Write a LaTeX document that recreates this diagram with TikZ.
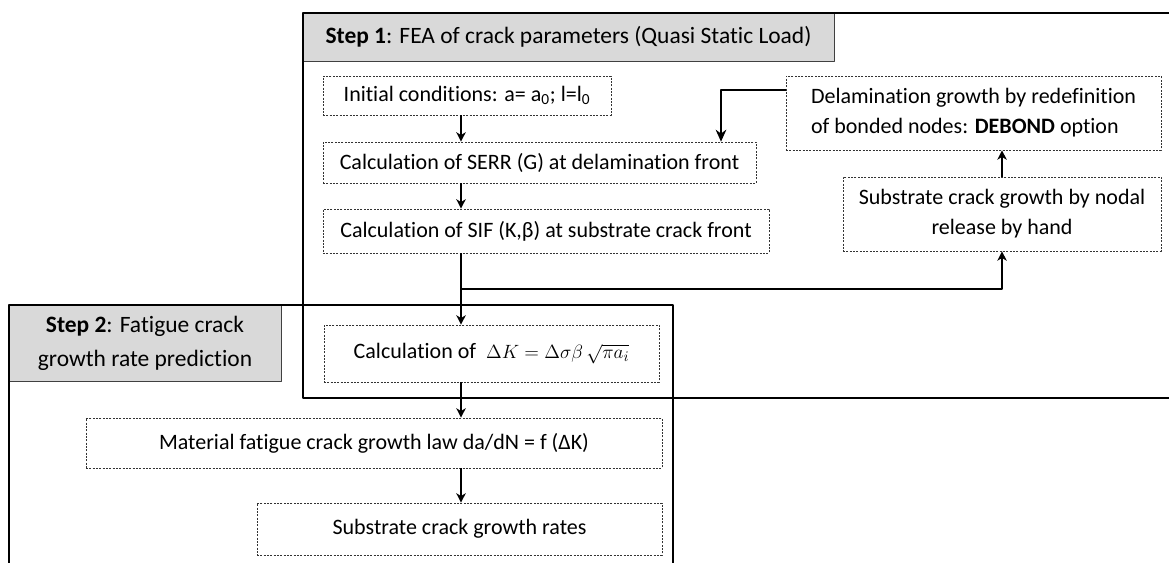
\documentclass[tikz,border=0pt]{standalone}
\usepackage{fontspec}
\setmainfont{Carlito}[Ligatures=NoCommon]
\usetikzlibrary{arrows.meta}
\begin{document}
\begin{tikzpicture}[x=0.75pt,y=-0.75pt,line join=round,>={Stealth[length=7pt,width=7pt,inset=2pt]},font=\fontsize{16.5}{22.5}\selectfont,
frame/.style={line width=1.4pt},
head/.style={fill=black!15,draw=black!75,line width=0.5pt,inner sep=0pt,align=center,font=\fontsize{17.6}{25.5}\selectfont},
dbox/.style={draw=black!80,dash pattern=on 1.6pt off 0.9pt,line width=0.5pt,inner sep=0pt,align=center},
link/.style={->,line width=1.3pt}]
\useasboundingbox (0,0) rectangle (1169,563);
\coordinate (sp) at (461,0);
\coordinate (br) at (461,289);
\node[head,minimum width=398.25pt,minimum height=36pt] (h1) at (568.5,37) {\textbf{Step 1}: FEA of crack parameters (Quasi Static Load)};
\node[head,minimum width=204pt,minimum height=57pt] (h2) at (145,343) {\textbf{Step 2}: Fatigue crack\\growth rate prediction};
\draw[frame] (1169,13)--(303,13)--(303,398)--(1169,398);
\draw[frame] (9,563)--(9,305)--(673,305)--(673,563);
\node[dbox,minimum width=216pt,minimum height=29.25pt] (ini) at (467,95.5) {Initial conditions: a= a\textsubscript{0}; l=l\textsubscript{0}};
\node[dbox,minimum width=324.75pt,minimum height=30.75pt] (serr) at (539.5,162.5) {Calculation of SERR (G) at delamination front};
\node[dbox,minimum width=334.5pt,minimum height=33pt] (sif) at (546,231) {Calculation of SIF (K,β) at substrate crack front};
\node[dbox,minimum width=281.25pt,minimum height=55.5pt,align=left] (del) at (973.5,113) {Delamination growth by redefinition\\of bonded nodes: \textbf{DEBOND} option};
\node[dbox,minimum width=238.5pt,minimum height=55.5pt] (sub) at (1002,214) {Substrate crack growth by nodal\\release by hand};
\node[dbox,minimum width=251.25pt,minimum height=42.75pt] (dk) at (491.5,353.5) {Calculation of \ {\fontsize{15}{18}\selectfont$\Delta K=\Delta\sigma\beta\,\sqrt{\pi a_i}$}};
\node[dbox,minimum width=432pt,minimum height=37.5pt] (law) at (374,443) {Material fatigue crack growth law da/dN = f (ΔK)};
\node[dbox,minimum width=303.75pt,minimum height=39pt] (rate) at (459.5,529) {Substrate crack growth rates};
\draw[link] (ini.south -| sp)--(serr.north -| sp);
\draw[link] (serr.south -| sp)--(sif.north -| sp);
\draw[link,-{Stealth[length=9pt,width=8pt]}] (del.west |- 0,90) -| (serr.north -| 721,0);
\draw[link] (sif.south -| sp)--(dk.north -| sp);
\draw[link] (br) -| (sub.south);
\draw[link] (sub.north)--(del.south -| sub.north);
\draw[link] (dk.south -| sp)--(law.north -| sp);
\draw[link] (law.south -| sp)--(rate.north -| sp);
\end{tikzpicture}
\end{document}
